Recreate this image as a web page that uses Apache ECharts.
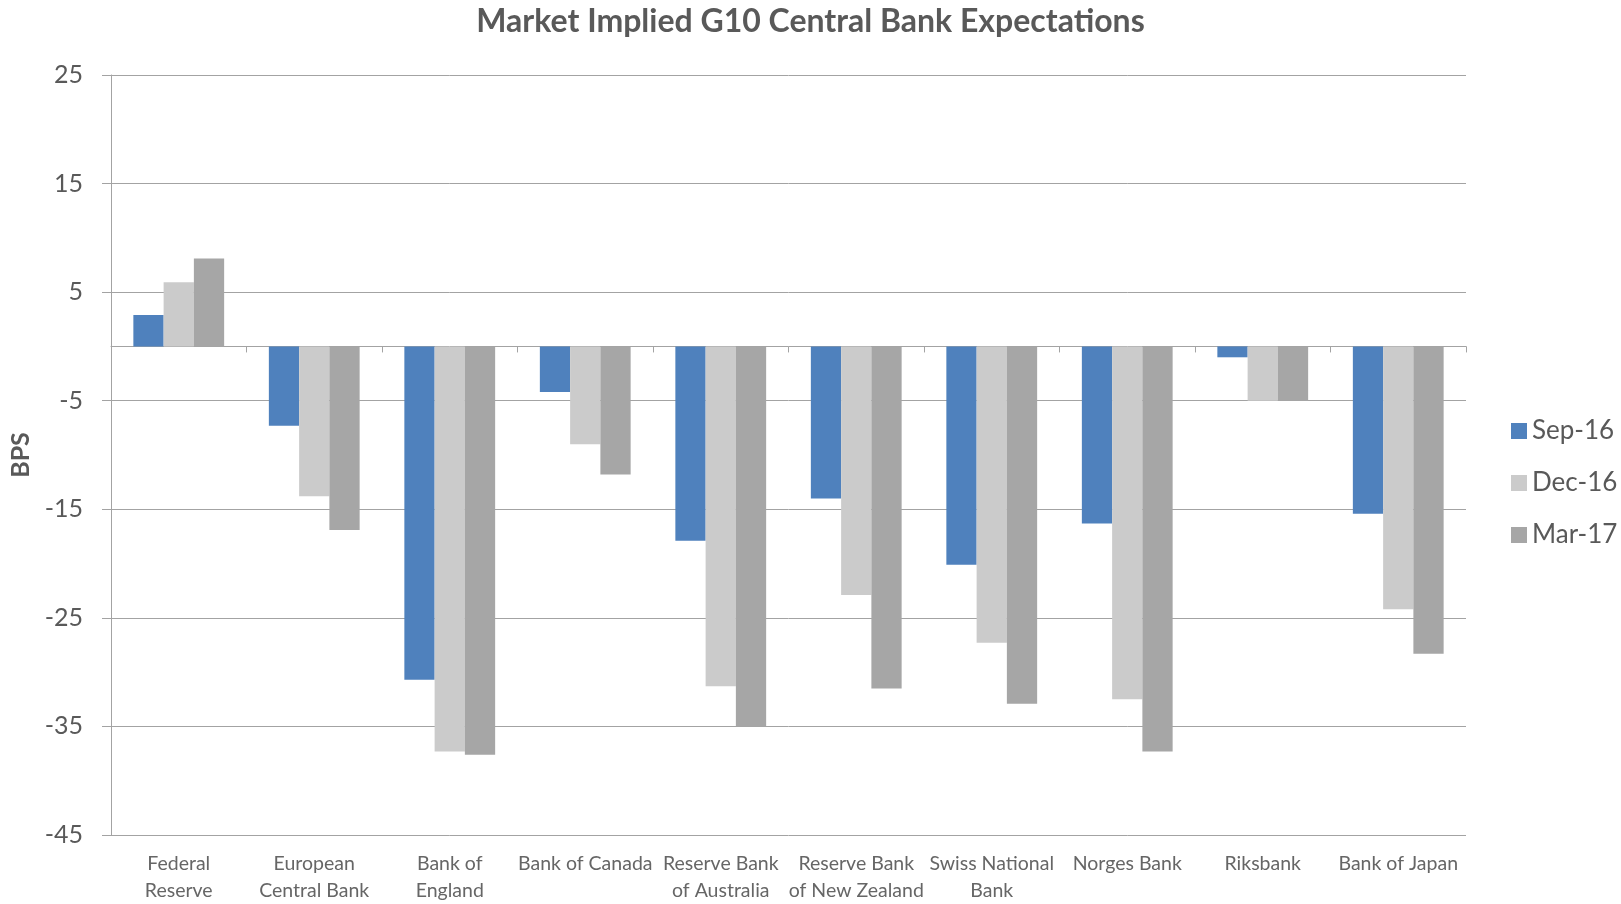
<!DOCTYPE html>
<html>
<head>
<meta charset="utf-8">
<script src="https://cdn.jsdelivr.net/npm/echarts@6/dist/echarts.min.js"></script>
<style>
  html, body { margin: 0; padding: 0; background: #fff; }
  #chart { width: 1621px; height: 904px; }
</style>
</head>
<body>
<div id="chart"></div>
<script>
// central banks (line breaks as in the original chart)
const banks = [
  'Federal\nReserve', 'European\nCentral Bank', 'Bank of\nEngland', 'Bank of Canada',
  'Reserve Bank\nof Australia', 'Reserve Bank\nof New Zealand', 'Swiss National\nBank',
  'Norges Bank', 'Riksbank', 'Bank of Japan'
]
// implied move, bps
const sep16 = [2.9, -7.3, -30.7, -4.2, -17.9, -14.0, -20.1, -16.3, -1.0, -15.4]
const dec16 = [5.9, -13.8, -37.3, -9.0, -31.3, -22.9, -27.3, -32.5, -5.0, -24.2]
const mar17 = [8.1, -16.9, -37.6, -11.8, -35.0, -31.5, -32.9, -37.3, -5.0, -28.3]
const yTicks = [-45, -35, -25, -15, -5, 5, 15, 25]

const font = 'Lato, "Open Sans", sans-serif'
const lineGray = '#a3a3a3'
const textGray = '#595959'

let mychart = echarts.init(document.getElementById('chart'))

function bar(name, data, color) {
  return {
    name: name,
    type: 'bar',
    data: data,
    barGap: '0%',
    barCategoryGap: '33%',
    itemStyle: { color: color }
  }
}

let option = {
  backgroundColor: '#fff',
  animation: false,
  title: {
    text: 'Market Implied G10 Central Bank Expectations',
    left: 'center',
    top: 1,
    textStyle: { fontFamily: font, fontSize: 32, fontWeight: 'bold', color: textGray }
  },
  legend: {
    orient: 'vertical',
    left: 1506,
    top: 413,
    itemWidth: 16,
    itemHeight: 16,
    itemGap: 26,
    icon: 'rect',
    textStyle: { fontFamily: font, fontSize: 26, color: textGray },
    data: ['Sep-16', 'Dec-16', 'Mar-17']
  },
  grid: {
    left: 111,
    right: 155,
    top: 75,
    bottom: 66,
    containLabel: false
  },
  xAxis: [
    {
      type: 'category',
      data: banks,
      position: 'bottom',
      axisLine: { show: false, onZero: false },
      axisTick: { show: false },
      axisLabel: {
        interval: 0,
        margin: 15,
        fontFamily: font,
        fontSize: 19.5,
        lineHeight: 27,
        color: '#666'
      }
    },
    {
      type: 'category',
      data: banks,
      position: 'top',
      axisLine: { show: true, onZero: true, lineStyle: { color: lineGray, width: 1 } },
      axisTick: { show: true, inside: true, length: 6, lineStyle: { color: lineGray } },
      axisLabel: { show: false }
    }
  ],
  yAxis: {
    type: 'value',
    min: yTicks[0],
    max: yTicks[yTicks.length - 1],
    interval: 10,
    name: 'BPS',
    nameLocation: 'middle',
    nameGap: 78,
    nameTextStyle: { fontFamily: font, fontSize: 25, fontWeight: 'bold', color: textGray },
    axisLine: { show: true, lineStyle: { color: lineGray, width: 1 } },
    axisTick: { show: true, length: 9, lineStyle: { color: lineGray } },
    splitLine: { show: true, lineStyle: { color: lineGray, width: 1 } },
    axisLabel: {
      margin: 28,
      fontFamily: font,
      fontSize: 25,
      color: textGray
    }
  },
  series: [
    bar('Sep-16', sep16, '#4f81bd'),
    bar('Dec-16', dec16, '#cbcbcb'),
    bar('Mar-17', mar17, '#a6a6a6')
  ]
}
mychart.setOption(option)
</script>
</body>
</html>
